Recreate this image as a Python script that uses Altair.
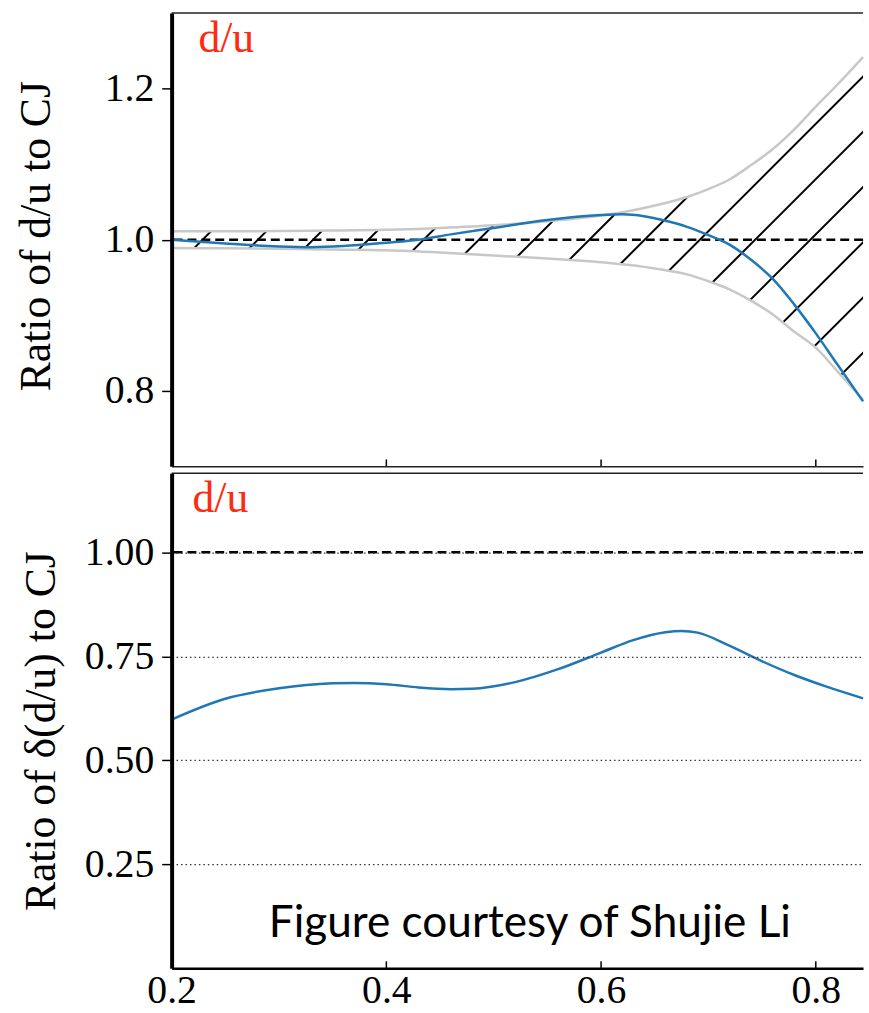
import altair as alt
import numpy as np
import pandas as pd

# ---------------- data ----------------
# Upper panel: ratio of d/u to CJ, uncertainty band edges and central curve
band_x = [0.2, 0.25, 0.3, 0.35, 0.4, 0.45, 0.5, 0.55, 0.6, 0.64, 0.68, 0.70,
          0.72, 0.74, 0.76, 0.78, 0.80, 0.82, 0.844]
band_upper = [1.011, 1.011, 1.0115, 1.012, 1.013, 1.0155, 1.019, 1.0245, 1.032,
              1.042, 1.0565, 1.067, 1.080, 1.099, 1.120, 1.146, 1.176, 1.205, 1.2415]
band_lower = [0.989, 0.9885, 0.988, 0.987, 0.986, 0.983, 0.979, 0.975, 0.970,
              0.964, 0.954, 0.945, 0.934, 0.919, 0.901, 0.878, 0.857, 0.826, 0.788]

ratio_x = [0.2, 0.25, 0.3, 0.33, 0.36, 0.4, 0.43, 0.46, 0.5, 0.55, 0.6, 0.62,
           0.64, 0.66, 0.68, 0.70, 0.72, 0.74, 0.76, 0.78, 0.80, 0.82, 0.844]
ratio_y = [1.0, 0.995, 0.991, 0.990, 0.9915, 0.996, 1.0, 1.007, 1.0155, 1.026,
           1.0325, 1.0335, 1.031, 1.025, 1.017, 1.006, 0.993, 0.973, 0.948,
           0.914, 0.876, 0.835, 0.786]

# Lower panel: ratio of the d/u uncertainty to CJ
err_x = [0.2, 0.25, 0.30, 0.35, 0.37, 0.40, 0.43, 0.46, 0.48, 0.52, 0.56, 0.60,
         0.63, 0.66, 0.675, 0.69, 0.72, 0.75, 0.78, 0.81, 0.844]
err_y = [0.598, 0.648, 0.673, 0.685, 0.686, 0.683, 0.675, 0.671, 0.672, 0.688,
         0.719, 0.759, 0.789, 0.808, 0.811, 0.807, 0.775, 0.738, 0.705, 0.677, 0.649]

reference_line = [1.0]
x_tick_values = [0.2, 0.4, 0.6, 0.8]
inner_ticks = [0.4, 0.6, 0.8]
top_y_ticks = [0.8, 1.0, 1.2]
bottom_y_ticks = [0.25, 0.5, 0.75, 1.0]
panel_label = ["d/u"]
top_title = ["Ratio of d/u to CJ"]
bottom_title = ["Ratio of \u03b4(d/u) to CJ"]
credit = ["Figure courtesy of Shujie Li"]

# ---------------- layout / style ----------------
X_MIN, X_MAX = 0.2, 0.844
TOP_MIN, TOP_MAX = 0.7, 1.3
BOT_MIN, BOT_MAX = 0.0, 1.19
W = 697
H_TOP = 457
H_BOT = 499
SERIF = "Liberation Serif"
BLUE = "#1f77b4"
BAND = "#c8c8c8"
RED = "#ff2a12"
HATCH_STEP_PX = 55.7      # horizontal spacing of the "/" hatch lines
HATCH_ORIGIN = 0.2289     # where one hatch line crosses y = 1

xscale = alt.Scale(domain=[X_MIN, X_MAX], nice=False, zero=False)
top_yscale = alt.Scale(domain=[TOP_MIN, TOP_MAX], nice=False, zero=False)
bot_yscale = alt.Scale(domain=[BOT_MIN, BOT_MAX], nice=False, zero=False)

top_xaxis = alt.Axis(labels=False, ticks=False, title=None, grid=False,
                     domainWidth=1.5, domainColor="#222", minExtent=0, maxExtent=0,
                     zindex=1)
bot_xaxis = alt.Axis(values=x_tick_values, format=".1f", ticks=False, title=None,
                     grid=False, labelPadding=34, labelBaseline="alphabetic",
                     labelFlush=False, labelFont=SERIF, labelFontSize=40,
                     domainWidth=2.5, domainColor="black", zindex=1)
top_yaxis = alt.Axis(values=top_y_ticks, format=".1f", title=None, grid=False,
                     domainWidth=4, labelFont=SERIF, labelFontSize=40,
                     tickSize=10, tickWidth=1.5, labelPadding=8, labelFlush=False,
                     zindex=1)
bot_yaxis = alt.Axis(values=bottom_y_ticks, format=".2f", title=None,
                     grid=True, gridDash=[1.5, 3], gridColor="#333", gridWidth=1.2,
                     domainWidth=4, labelFont=SERIF, labelFontSize=40,
                     tickSize=10, tickWidth=1.5, labelPadding=8, labelFlush=False,
                     zindex=1)


def tx(field):
    return alt.X(field, type="quantitative", scale=xscale, axis=top_xaxis)


def ty(field):
    return alt.Y(field, type="quantitative", scale=top_yscale, axis=top_yaxis)


def bx(field):
    return alt.X(field, type="quantitative", scale=xscale, axis=bot_xaxis)


def by(field):
    return alt.Y(field, type="quantitative", scale=bot_yscale, axis=bot_yaxis)


def side_title(text, x, y):
    # vertical axis title, written bottom-to-top left of the panel
    return alt.Chart(pd.DataFrame({"t": text})).mark_text(
        font=SERIF, fontSize=44, color="black", angle=270, align="center",
        baseline="alphabetic").encode(text="t:N", x=alt.value(x), y=alt.value(y))


# ---------------- upper panel ----------------
band = pd.DataFrame({"x": band_x, "upper": band_upper, "lower": band_lower})
band["ceil"] = TOP_MAX
band["floor"] = TOP_MIN
ratio = pd.DataFrame({"x": ratio_x, "y": ratio_y})

# 45-degree hatch lines spanning the panel; the white masks below keep them
# only between the band edges
px_x = W / (X_MAX - X_MIN)
px_y = H_TOP / (TOP_MAX - TOP_MIN)
step = HATCH_STEP_PX / px_x
half_run = (TOP_MAX - TOP_MIN) / 2 * px_y / px_x
centers = HATCH_ORIGIN + step * np.arange(-12, 24)
hatch = pd.DataFrame({"x": centers - half_run, "x2": centers + half_run,
                      "y": TOP_MIN, "y2": TOP_MAX})

hatch_layer = alt.Chart(hatch).mark_rule(color="black", strokeWidth=2, clip=True).encode(
    x=tx("x"), x2="x2", y=ty("y"), y2="y2")
mask_top = alt.Chart(band).mark_area(color="white", opacity=1, interpolate="monotone",
                                     clip=True).encode(x=tx("x"), y=ty("upper"), y2="ceil")
mask_bot = alt.Chart(band).mark_area(color="white", opacity=1, interpolate="monotone",
                                     clip=True).encode(x=tx("x"), y=ty("lower"), y2="floor")
edge_up = alt.Chart(band).mark_line(color=BAND, strokeWidth=2.5, interpolate="monotone").encode(
    x=tx("x"), y=ty("upper"))
edge_lo = alt.Chart(band).mark_line(color=BAND, strokeWidth=2.5, interpolate="monotone").encode(
    x=tx("x"), y=ty("lower"))
ref_top = alt.Chart(pd.DataFrame({"y": reference_line})).mark_rule(
    color="black", strokeWidth=2.5, strokeDash=[9, 5]).encode(y=ty("y"))
ratio_line = alt.Chart(ratio).mark_line(color=BLUE, strokeWidth=2.5, interpolate="monotone").encode(
    x=tx("x"), y=ty("y"))
ticks_top = alt.Chart(pd.DataFrame({"x": inner_ticks})).mark_rule(color="black", strokeWidth=1.5).encode(
    x=tx("x"), y=alt.value(H_TOP), y2=alt.value(H_TOP - 7))
border_top = alt.Chart(pd.DataFrame({"x": [X_MIN]})).mark_rule(color="#222", strokeWidth=1.5).encode(
    x=alt.value(0), x2=alt.value(W), y=alt.value(0))
label_top = alt.Chart(pd.DataFrame({"t": panel_label})).mark_text(
    font=SERIF, fontSize=44, color=RED, align="left", baseline="alphabetic").encode(
    text="t:N", x=alt.value(27), y=alt.value(39))
title_top = side_title(top_title, -123, 225)

top = alt.layer(hatch_layer, mask_top, mask_bot, edge_up, edge_lo, ref_top, ratio_line,
                ticks_top, border_top, label_top, title_top).properties(width=W, height=H_TOP)

# ---------------- lower panel ----------------
err = pd.DataFrame({"x": err_x, "y": err_y})
err_line = alt.Chart(err).mark_line(color=BLUE, strokeWidth=2.5, interpolate="monotone").encode(
    x=bx("x"), y=by("y"))
ref_bot = alt.Chart(pd.DataFrame({"y": reference_line})).mark_rule(
    color="black", strokeWidth=2.5, strokeDash=[9, 5]).encode(y=by("y"))
ticks_bot = alt.Chart(pd.DataFrame({"x": inner_ticks})).mark_rule(color="black", strokeWidth=1.5).encode(
    x=bx("x"), y=alt.value(H_BOT), y2=alt.value(H_BOT - 7))
border_bot = alt.Chart(pd.DataFrame({"x": [X_MIN]})).mark_rule(color="#222", strokeWidth=1.5).encode(
    x=alt.value(0), x2=alt.value(W), y=alt.value(0))
label_bot = alt.Chart(pd.DataFrame({"t": panel_label})).mark_text(
    font=SERIF, fontSize=44, color=RED, align="left", baseline="alphabetic").encode(
    text="t:N", x=alt.value(21), y=alt.value(39))
credit_text = alt.Chart(pd.DataFrame({"t": credit})).mark_text(
    font="Lato", fontSize=44.5, color="black", align="left", baseline="alphabetic").encode(
    text="t:N", x=alt.value(98), y=alt.value(467))
title_bot = side_title(bottom_title, -118, 260)

bottom = alt.layer(err_line, ref_bot, ticks_bot, border_bot, label_bot,
                   credit_text, title_bot).properties(width=W, height=H_BOT)

chart = alt.vconcat(top, bottom, spacing=3).properties(
    padding={"left": 14, "top": 7, "right": 0, "bottom": 0}
).configure_view(stroke="transparent").configure_axis(
    labelColor="black", domainColor="black", tickColor="black",
)

chart.save("out.html", embed_options={"renderer": "svg", "actions": False})
